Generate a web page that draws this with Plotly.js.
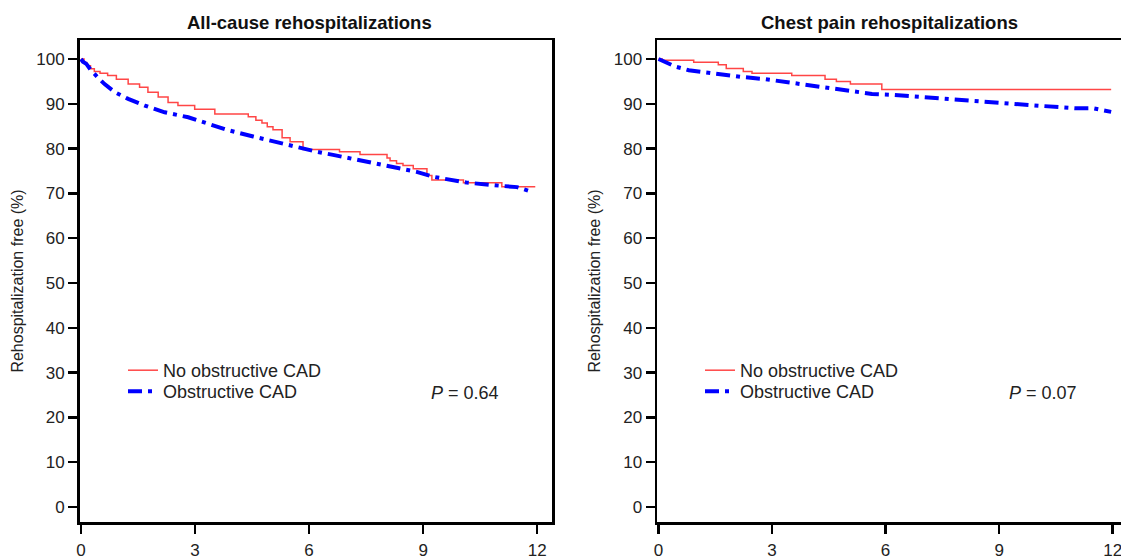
<!DOCTYPE html>
<html>
<head>
<meta charset="utf-8">
<script src="https://cdn.plot.ly/plotly-3.0.1.min.js"></script>
<style>html,body{margin:0;padding:0;background:#fff;overflow:hidden}</style>
</head>
<body>
<div id="chart" style="width:1121px;height:559px"></div>
<script>
// ---- Data (months vs % rehospitalization free) ----
const panelTitles = ["All-cause rehospitalizations", "Chest pain rehospitalizations"];
const seriesNames = ["No obstructive CAD", "Obstructive CAD"];
const pValues = ["0.64", "0.07"];
const xTicks = [0, 3, 6, 9, 12];
const yTicks = [0, 10, 20, 30, 40, 50, 60, 70, 80, 90, 100];

// All-cause, no obstructive CAD (step curve)
const allNoX = [0, 0.08, 0.15, 0.25, 0.35, 0.5, 0.7, 0.93, 1.24, 1.54, 1.76, 2.03, 2.29, 2.55, 2.99, 3.52, 4.4, 4.6, 4.76, 4.9, 5.05, 5.29, 5.5, 5.84, 6.8, 7.34, 8.05, 8.13, 8.3, 8.47, 8.74, 9.1, 9.23, 10.06, 11.07, 11.95];
const allNoY = [100, 99.2, 98.5, 97.8, 97.2, 96.8, 96.3, 95.5, 94.4, 93.7, 92.6, 91.5, 90.3, 89.6, 88.8, 87.7, 87.1, 86.3, 85.7, 84.9, 84.2, 82.4, 81.5, 79.8, 79.3, 78.7, 77.9, 77.3, 76.7, 76.2, 75.5, 74.0, 73.0, 72.4, 71.5, 71.5];
// All-cause, obstructive CAD
const allObX = [0, 0.05, 0.14, 0.27, 0.45, 0.62, 0.89, 1.24, 1.68, 2.2, 2.82, 3.25, 3.83, 4.53, 5.24, 5.76, 6.2, 6.63, 7.52, 8.4, 8.83, 9.27, 10.15, 11.03, 11.47, 11.76, 11.9];
const allObY = [100, 99.4, 98.9, 97.4, 95.8, 94.4, 92.6, 91.1, 89.6, 88.1, 87.0, 85.9, 84.2, 82.7, 81.2, 80.1, 79.3, 78.6, 77.1, 75.6, 74.8, 73.7, 72.4, 71.7, 71.4, 70.6, 70.1];
// Chest pain, no obstructive CAD (step curve)
const cpNoX = [0, 0.1, 0.93, 1.58, 1.79, 2.24, 2.47, 3.52, 4.4, 4.7, 5.07, 5.9, 11.96];
const cpNoY = [100, 99.7, 99.3, 98.7, 97.9, 97.2, 96.8, 96.3, 95.5, 95.0, 94.4, 93.2, 93.2];
// Chest pain, obstructive CAD
const cpObX = [0, 0.18, 0.45, 0.8, 1.24, 1.68, 2.2, 2.82, 3.44, 4.05, 4.75, 5.2, 5.64, 6.2, 7.08, 7.96, 8.84, 9.28, 10.16, 11.04, 11.48, 11.96];
const cpObY = [100, 99.3, 98.3, 97.5, 97.0, 96.5, 96.0, 95.5, 94.8, 93.9, 93.3, 92.6, 92.2, 92.0, 91.4, 90.8, 90.3, 90.0, 89.5, 89.0, 89.0, 88.2];

const FONT = "'Liberation Sans', Arial, Helvetica, sans-serif";
const RED = "rgb(255,70,70)";
const BLUE = "#0000ff";
const blueDash = "14px,6px,4px,6px";

function redTrace(x, y, xa, ya, lg) {
  return {x: x, y: y, xaxis: xa, yaxis: ya, legend: lg, type: "scatter", mode: "lines",
    name: seriesNames[0], line: {color: RED, width: 1.5, shape: "hv"}};
}
function blueTrace(x, y, xa, ya, lg) {
  return {x: x, y: y, xaxis: xa, yaxis: ya, legend: lg, type: "scatter", mode: "lines",
    name: seriesNames[1], line: {color: BLUE, width: 4, dash: blueDash}};
}

const data = [
  redTrace(allNoX, allNoY, "x", "y", "legend"),
  blueTrace(allObX, allObY, "x", "y", "legend2"),
  redTrace(cpNoX, cpNoY, "x2", "y2", "legend3"),
  blueTrace(cpObX, cpObY, "x2", "y2", "legend4")
];

const W = 1121, H = 559;
const axCommon = {
  showline: true, linewidth: 2.5, linecolor: "#000",
  ticks: "outside", ticklen: 9, tickwidth: 2.5, tickcolor: "#000",
  showgrid: false, zeroline: false, ticklabeloverflow: "allow",
  tickfont: {family: FONT, size: 17, color: "#222"}
};
const yTitle = {text: "Rehospitalization free (%)", font: {family: FONT, size: 16, color: "#222"}, standoff: 9};
const legFont = {family: FONT, size: 18, color: "#222"};
function leg(px, py) {
  return {x: px / W, y: 1 - py / H, xanchor: "left", yanchor: "top", bgcolor: "rgba(0,0,0,0)", font: legFont};
}

const layout = {
  width: W, height: H,
  margin: {l: 0, r: 0, t: 0, b: 0},
  paper_bgcolor: "#fff", plot_bgcolor: "#fff",
  font: {family: FONT, color: "#222"},
  xaxis: Object.assign({}, axCommon, {domain: [79.5 / W, 552 / W], range: [-0.04, 12.39], tickvals: xTicks, anchor: "y", mirror: true, ticklabelstandoff: 2}),
  yaxis: Object.assign({}, axCommon, {domain: [(H - 522) / H, (H - 40) / H], range: [-3.35, 104.24], tickvals: yTicks, anchor: "x", mirror: true, title: yTitle}),
  xaxis2: Object.assign({}, axCommon, {domain: [657 / W, 1], range: [-0.04, 12.22], tickvals: xTicks, anchor: "y2", mirror: true, ticklabelstandoff: 2}),
  yaxis2: Object.assign({}, axCommon, {domain: [(H - 522) / H, (H - 40) / H], range: [-3.35, 104.24], tickvals: yTicks, anchor: "x2", mirror: false, title: yTitle}),
  showlegend: true,
  legend: leg(123, 352),
  legend2: leg(123, 373),
  legend3: leg(700, 352),
  legend4: leg(700, 373),
  annotations: [
    {text: "<b>" + panelTitles[0] + "</b>", xref: "paper", yref: "paper", x: 309 / W, y: 1 - 22 / H, xanchor: "center", yanchor: "middle", showarrow: false, font: {family: FONT, size: 18.5, color: "#111"}},
    {text: "<b>" + panelTitles[1] + "</b>", xref: "paper", yref: "paper", x: 889 / W, y: 1 - 22 / H, xanchor: "center", yanchor: "middle", showarrow: false, font: {family: FONT, size: 18.5, color: "#111"}},
    {text: "<i>P</i> = " + pValues[0], xref: "paper", yref: "paper", x: 429 / W, y: 1 - 393 / H, xanchor: "left", yanchor: "middle", showarrow: false, font: legFont},
    {text: "<i>P</i> = " + pValues[1], xref: "paper", yref: "paper", x: 1007 / W, y: 1 - 393 / H, xanchor: "left", yanchor: "middle", showarrow: false, font: legFont}
  ]
};

Plotly.newPlot("chart", data, layout, {displayModeBar: false, staticPlot: true});
</script>
</body>
</html>
